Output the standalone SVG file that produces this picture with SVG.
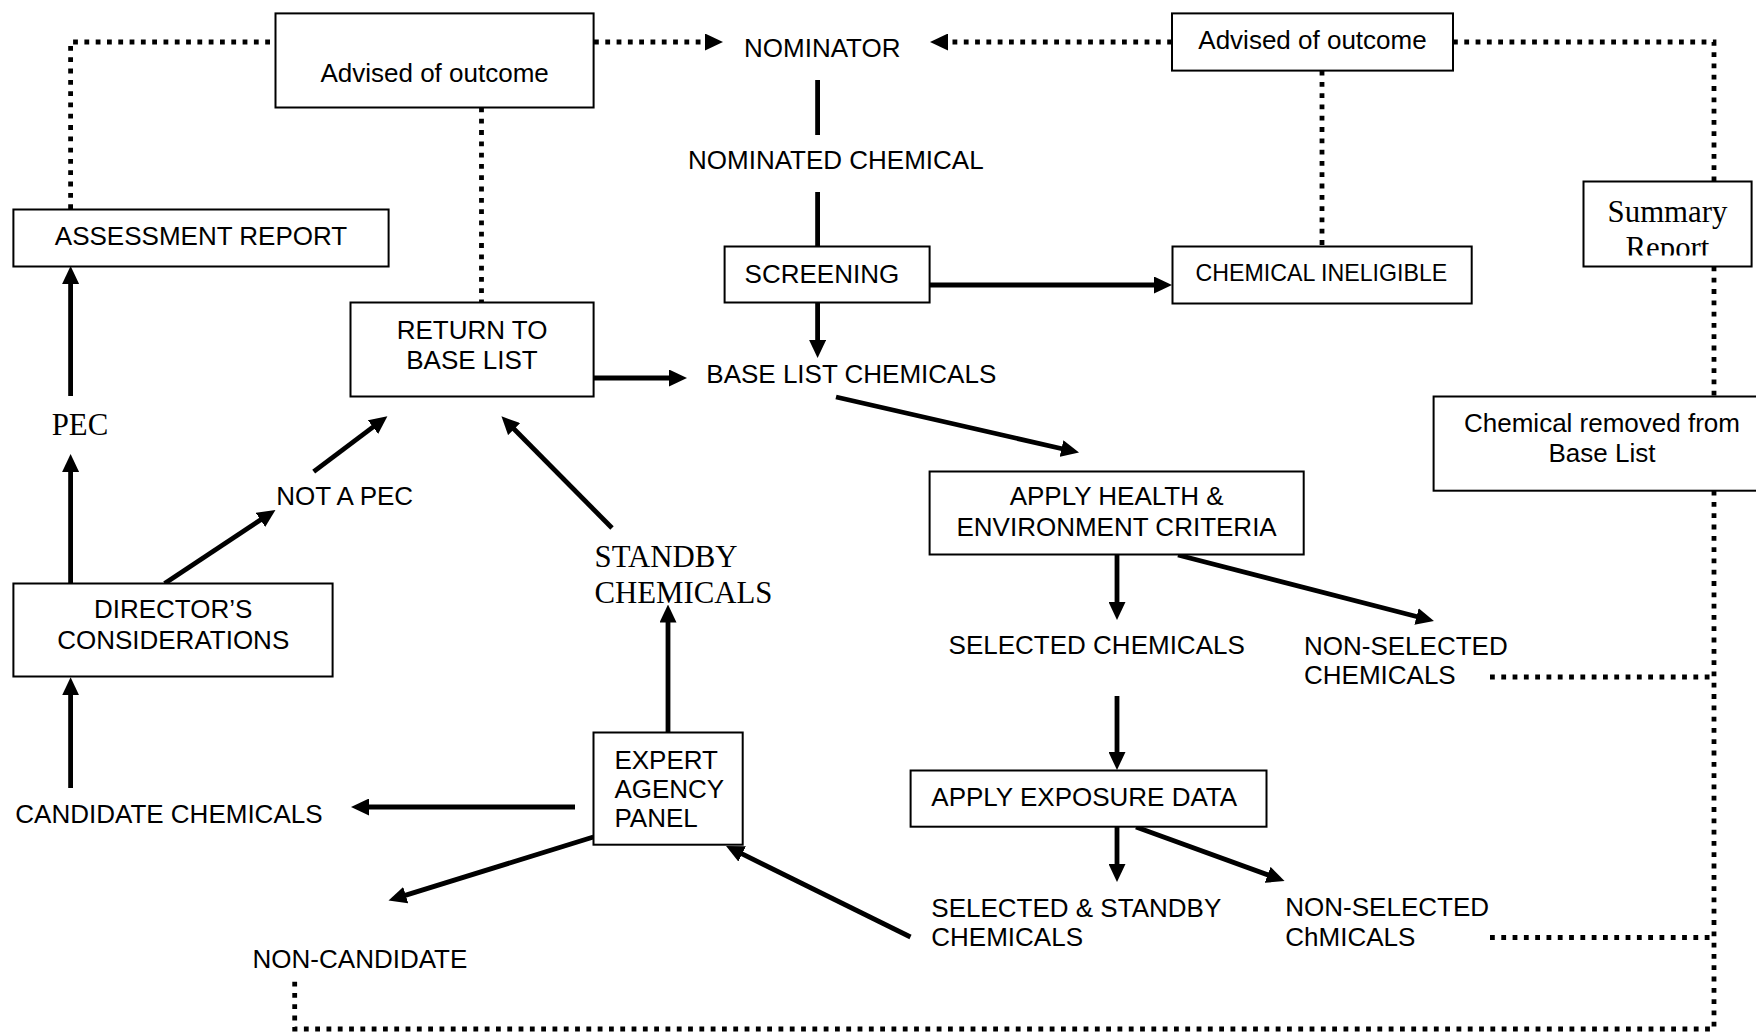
<svg xmlns="http://www.w3.org/2000/svg" width="1756" height="1033" viewBox="0 0 1756 1033">
  <style>
    .box { fill: #fff; stroke: #000; stroke-width: 2; }
    .t { font-family: "Liberation Sans", Arial, sans-serif; font-size: 26px; fill: #000; }
    .ts { font-family: "Liberation Sans", Arial, sans-serif; font-size: 23.2px; fill: #000; }
    .serif { font-family: "Liberation Serif", "Times New Roman", serif; font-size: 30.8px; fill: #000; }
    .mid { text-anchor: middle; }
    .solid { fill: none; stroke: #000; stroke-width: 4.8; }
    .arrow { marker-end: url(#head); }
    .dot { fill: none; stroke: #000; stroke-width: 4.8; stroke-dasharray: 4.8 6.5; }
  </style>
  <defs>
    <marker id="head" markerUnits="userSpaceOnUse" viewBox="0 -8.5 18 17" markerWidth="18" markerHeight="17" refX="4" refY="0" orient="auto">
      <path d="M0,-8.5 L18,0 L0,8.5 z" fill="#000"/>
    </marker>
    <clipPath id="summaryClip">
      <rect x="1584" y="182" width="167" height="73.5"/>
    </clipPath>
  </defs>

  <rect width="1756" height="1033" fill="#fff"/>

  <!-- connectors -->
  <g id="connectors">
    <!-- dotted feedback paths -->
    <path class="dot" d="M70.6,209 V42 H275.5"/>
    <path class="dot arrow" d="M594,42 H709"/>
    <path class="dot arrow" d="M1172,42 H944"/>
    <path class="dot" d="M481.5,107.5 V302.5"/>
    <path class="dot" d="M1322,70.6 V246.5"/>
    <path class="dot" d="M1453,42 H1714 V181.5"/>
    <path class="dot" d="M1714,266.5 V396.5"/>
    <path class="dot" d="M1714,490.7 V1029 H294.7 V980"/>
    <path class="dot" d="M1490,677 H1714"/>
    <path class="dot" d="M1490,937.5 H1714"/>

    <!-- main flow -->
    <path class="solid" d="M817.6,80 V135"/>
    <path class="solid" d="M817.6,192 V246.5"/>
    <path class="solid arrow" d="M929.6,285 H1158"/>
    <path class="solid arrow" d="M817.6,302.5 V344"/>
    <path class="solid arrow" d="M593.6,378 H673"/>
    <path class="solid arrow" d="M836,397 L1065.4,449.5"/>
    <path class="solid arrow" d="M1117,554.5 V606"/>
    <path class="solid arrow" d="M1178,555 L1420.4,617.5"/>
    <path class="solid arrow" d="M1117,696 V756"/>
    <path class="solid arrow" d="M1117,826.7 V868"/>
    <path class="solid arrow" d="M1136,827 L1271.4,876.2"/>
    <path class="solid arrow" d="M910.5,937 L738.6,852.2"/>
    <path class="solid arrow" d="M668,732.5 V618.5"/>
    <path class="solid arrow" d="M612,528 L511.3,426.3"/>
    <path class="solid arrow" d="M575,807 H365"/>
    <path class="solid arrow" d="M593.4,837 L401.9,896.4"/>
    <path class="solid arrow" d="M70.6,788 V691.3"/>
    <path class="solid arrow" d="M70.6,583.5 V468"/>
    <path class="solid arrow" d="M70.6,396 V280"/>
    <path class="solid arrow" d="M164.6,583.5 L263.8,517.7"/>
    <path class="solid arrow" d="M313.7,471.6 L376.2,424.7"/>
  </g>

  <!-- nodes -->
  <g id="advised-left">
    <rect class="box" x="275.5" y="13.4" width="318.1" height="94.1"/>
    <text class="t mid" x="434.6" y="82">Advised of outcome</text>
  </g>
  <g id="nominator">
    <text class="t" x="744" y="57">NOMINATOR</text>
  </g>
  <g id="advised-right">
    <rect class="box" x="1172" y="13.4" width="281" height="57.2"/>
    <text class="t mid" x="1312.5" y="48.5">Advised of outcome</text>
  </g>
  <g id="nominated-chemical">
    <text class="t" x="688" y="169">NOMINATED CHEMICAL</text>
  </g>
  <g id="assessment-report">
    <rect class="box" x="13.4" y="209.5" width="375.2" height="57"/>
    <text class="t mid" x="201" y="244.5">ASSESSMENT REPORT</text>
  </g>
  <g id="screening">
    <rect class="box" x="724.6" y="246.5" width="205" height="56"/>
    <text class="t" x="744.6" y="282.5">SCREENING</text>
  </g>
  <g id="chemical-ineligible">
    <rect class="box" x="1172.5" y="246.5" width="299.2" height="57"/>
    <text class="ts" x="1195.6" y="280.8">CHEMICAL INELIGIBLE</text>
  </g>
  <g id="summary-report">
    <rect class="box" x="1583.5" y="181.5" width="168.1" height="85"/>
    <g clip-path="url(#summaryClip)">
      <text class="serif mid" x="1667.5" y="221.5">Summary</text>
      <text class="serif mid" x="1667.5" y="258">Report</text>
    </g>
  </g>
  <g id="return-to-base-list">
    <rect class="box" x="350.5" y="302.5" width="243.1" height="94"/>
    <text class="t mid" x="472" y="338.5">RETURN TO</text>
    <text class="t mid" x="472" y="368.5">BASE LIST</text>
  </g>
  <g id="base-list-chemicals">
    <text class="t" x="706.3" y="383">BASE LIST CHEMICALS</text>
  </g>
  <g id="pec">
    <text class="serif" x="51.7" y="435">PEC</text>
  </g>
  <g id="chemical-removed">
    <rect class="box" x="1433.6" y="396.5" width="326.4" height="94.2"/>
    <text class="t mid" x="1602" y="432">Chemical removed from</text>
    <text class="t mid" x="1602" y="462">Base List</text>
  </g>
  <g id="apply-health">
    <rect class="box" x="929.6" y="471.5" width="374.1" height="83"/>
    <text class="t mid" x="1116.6" y="505.2">APPLY HEALTH &amp;</text>
    <text class="t mid" x="1116.6" y="536.2">ENVIRONMENT CRITERIA</text>
  </g>
  <g id="not-a-pec">
    <text class="t" x="276.3" y="505">NOT A PEC</text>
  </g>
  <g id="standby-chemicals">
    <text class="serif" x="594.5" y="566.5">STANDBY</text>
    <text class="serif" x="594.5" y="602.5">CHEMICALS</text>
  </g>
  <g id="directors-considerations">
    <rect class="box" x="13.4" y="583.5" width="319.2" height="93"/>
    <text class="t mid" x="173.2" y="618">DIRECTOR’S</text>
    <text class="t mid" x="173.2" y="649">CONSIDERATIONS</text>
  </g>
  <g id="selected-chemicals">
    <text class="t" x="948.6" y="654">SELECTED CHEMICALS</text>
  </g>
  <g id="non-selected-chemicals">
    <text class="t" x="1304" y="655">NON-SELECTED</text>
    <text class="t" x="1304" y="684.3">CHEMICALS</text>
  </g>
  <g id="expert-agency-panel">
    <rect class="box" x="593.5" y="732.5" width="149.2" height="112.2"/>
    <text class="t" x="614.4" y="769">EXPERT</text>
    <text class="t" x="614.4" y="798">AGENCY</text>
    <text class="t" x="614.4" y="827.4">PANEL</text>
  </g>
  <g id="apply-exposure-data">
    <rect class="box" x="910.6" y="770.5" width="355.9" height="56.2"/>
    <text class="t" x="931.3" y="806">APPLY EXPOSURE DATA</text>
  </g>
  <g id="candidate-chemicals">
    <text class="t" x="15.3" y="822.5">CANDIDATE CHEMICALS</text>
  </g>
  <g id="selected-standby">
    <text class="t" x="931.3" y="917">SELECTED &amp; STANDBY</text>
    <text class="t" x="931.3" y="946">CHEMICALS</text>
  </g>
  <g id="non-selected-exposure">
    <text class="t" x="1285.3" y="916">NON-SELECTED</text>
    <text class="t" x="1285.3" y="946">ChMICALS</text>
  </g>
  <g id="non-candidate">
    <text class="t" x="252.6" y="967.5">NON-CANDIDATE</text>
  </g>
</svg>
